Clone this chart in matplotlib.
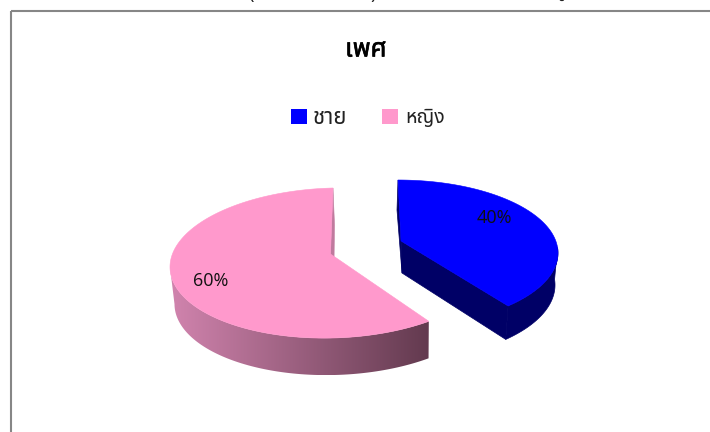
import numpy as np
import matplotlib
matplotlib.use("Agg")
import matplotlib.pyplot as plt
import matplotlib.patheffects as pe
from matplotlib.patches import Polygon, Rectangle
from matplotlib import font_manager as fm

title = "เพศ"
categories = ["ชาย", "หญิง"]
values = [40, 60]
value_labels = ["40%", "60%"]
face_colors = ["#0000ff", "#ff99cc"]
side_colors = ["#000066", "#c07a9e"]
# bits of a line above the chart frame, cut by the picture's top edge
cut_texts = ["(", ")", "ผู"]

installed = {f.name for f in fm.fontManager.ttflist}
thai_font = next((n for n in ["Noto Sans Thai", "Sarabun", "Anuphan", "Loma", "Garuda", "Waree", "FreeSerif"] if n in installed), "DejaVu Sans")
label_font = next((n for n in ["Open Sans", "Noto Sans", "DejaVu Sans"] if n in installed), "DejaVu Sans")

W, H = 710, 432
fig = plt.figure(figsize=(W / 100, H / 100), dpi=100)
ax = fig.add_axes([0, 0, 1, 1])
ax.set_xlim(0, W)
ax.set_ylim(H, 0)
ax.axis("off")

ax.add_patch(Rectangle((10.5, 11), 720, 440, fill=False, ec="#868686", lw=1.5, zorder=1))


def rim(t, e):
    r = np.radians(t * e["warp"])
    return e["cx"] + e["a"] * np.sin(r), e["cy"] - e["b"] * np.cos(r) + e["k"] * np.sin(r)


fractions = np.cumsum([0] + values) / sum(values) * 360
geom = [
    dict(top=dict(cx=398, cy=253, a=160, b=73, k=0, warp=0.948),
         bot=dict(cx=397, cy=285, a=158, b=75, k=0, warp=0.948),
         apex=(401, 241), apex_bot=(402, 273)),
    dict(top=dict(cx=333, cy=263, a=163, b=75, k=-4, warp=1.0),
         bot=dict(cx=334.5, cy=300, a=160, b=75, k=-4, warp=1.0),
         apex=(330.5, 254), apex_bot=(334, 262)),
]

for i, g in enumerate(geom):
    t0, t1 = fractions[i], fractions[i + 1]
    ts = np.linspace(t0, t1, 200)
    top_x, top_y = rim(ts, g["top"])
    bot_x, bot_y = rim(ts, g["bot"])

    # visible outer wall: part of the rim facing the viewer
    vis = (ts >= 90) & (ts <= 270)
    wall = np.vstack([np.column_stack([top_x[vis], top_y[vis]]),
                      np.column_stack([bot_x[vis], bot_y[vis]])[::-1]])
    if i == 0:
        ax.add_patch(Polygon(wall, closed=True, fc=side_colors[i], ec=side_colors[i], lw=0.5, zorder=2))
        inner = [(top_x[0], top_y[0]), g["apex"], g["apex_bot"], (bot_x[0], bot_y[0])]
        ax.add_patch(Polygon(inner, closed=True, fc=side_colors[i], ec=side_colors[i], lw=0.5, zorder=2))
        front = [g["apex"], (top_x[-1], top_y[-1]), (bot_x[-1], bot_y[-1]), g["apex_bot"]]
        ax.add_patch(Polygon(front, closed=True, fc=side_colors[i], ec=side_colors[i], lw=0.5, zorder=2))
    else:
        patch = Polygon(wall, closed=True, fc="none", ec="none", zorder=2)
        ax.add_patch(patch)
        grad = np.linspace(0, 1, 256).reshape(1, -1, 1)
        light = np.array(matplotlib.colors.to_rgb("#d184ae"))
        dark = np.array(matplotlib.colors.to_rgb("#633a4f"))
        img = light + (dark - light) * grad
        im = ax.imshow(img, extent=(wall[:, 0].min(), wall[:, 0].max(), wall[:, 1].max(), wall[:, 1].min()),
                       aspect="auto", zorder=2, interpolation="bilinear")
        im.set_clip_path(patch)
        inner = [(top_x[-1], top_y[-1]), g["apex"], g["apex_bot"], (bot_x[-1], bot_y[-1])]
        ax.add_patch(Polygon(inner, closed=True, fc=side_colors[i], ec=side_colors[i], lw=0.4, zorder=2))

    face = np.vstack([[g["apex"]], np.column_stack([top_x, top_y])])
    ax.add_patch(Polygon(face, closed=True, fc=face_colors[i], ec=face_colors[i], lw=0.4, zorder=3))

ax.set_xlim(0, W)
ax.set_ylim(H, 0)

t = ax.text(366, 50, title, family=thai_font, fontsize=18.5, ha="center", va="center", color="black", zorder=5)
t.set_path_effects([pe.withStroke(linewidth=0.45, foreground="black")])

ax.add_patch(Rectangle((291, 109), 15.5, 15, fc=face_colors[0], ec="none", zorder=5))
ax.add_patch(Rectangle((382, 109), 16, 15, fc=face_colors[1], ec="none", zorder=5))
ax.text(313, 118, categories[0], family=thai_font, fontsize=16, ha="left", va="center", color="#222222", zorder=5)
ax.text(405.5, 118, categories[1], family=thai_font, fontsize=14, ha="left", va="center", color="#222222", zorder=5)

ax.text(494, 218, value_labels[0], family=label_font, fontsize=13, ha="center", va="center", color="#111111", zorder=5)
ax.text(211, 281, value_labels[1], family=label_font, fontsize=13, ha="center", va="center", color="#111111", zorder=5)

for txt, x, y in zip(cut_texts, [251, 373, 560], [-6, -6, -8]):
    ax.text(x, y, txt, family=thai_font, fontsize=13, ha="center", va="center", color="#222222", zorder=5, clip_on=True)

fig.savefig("out.png", dpi=100)
